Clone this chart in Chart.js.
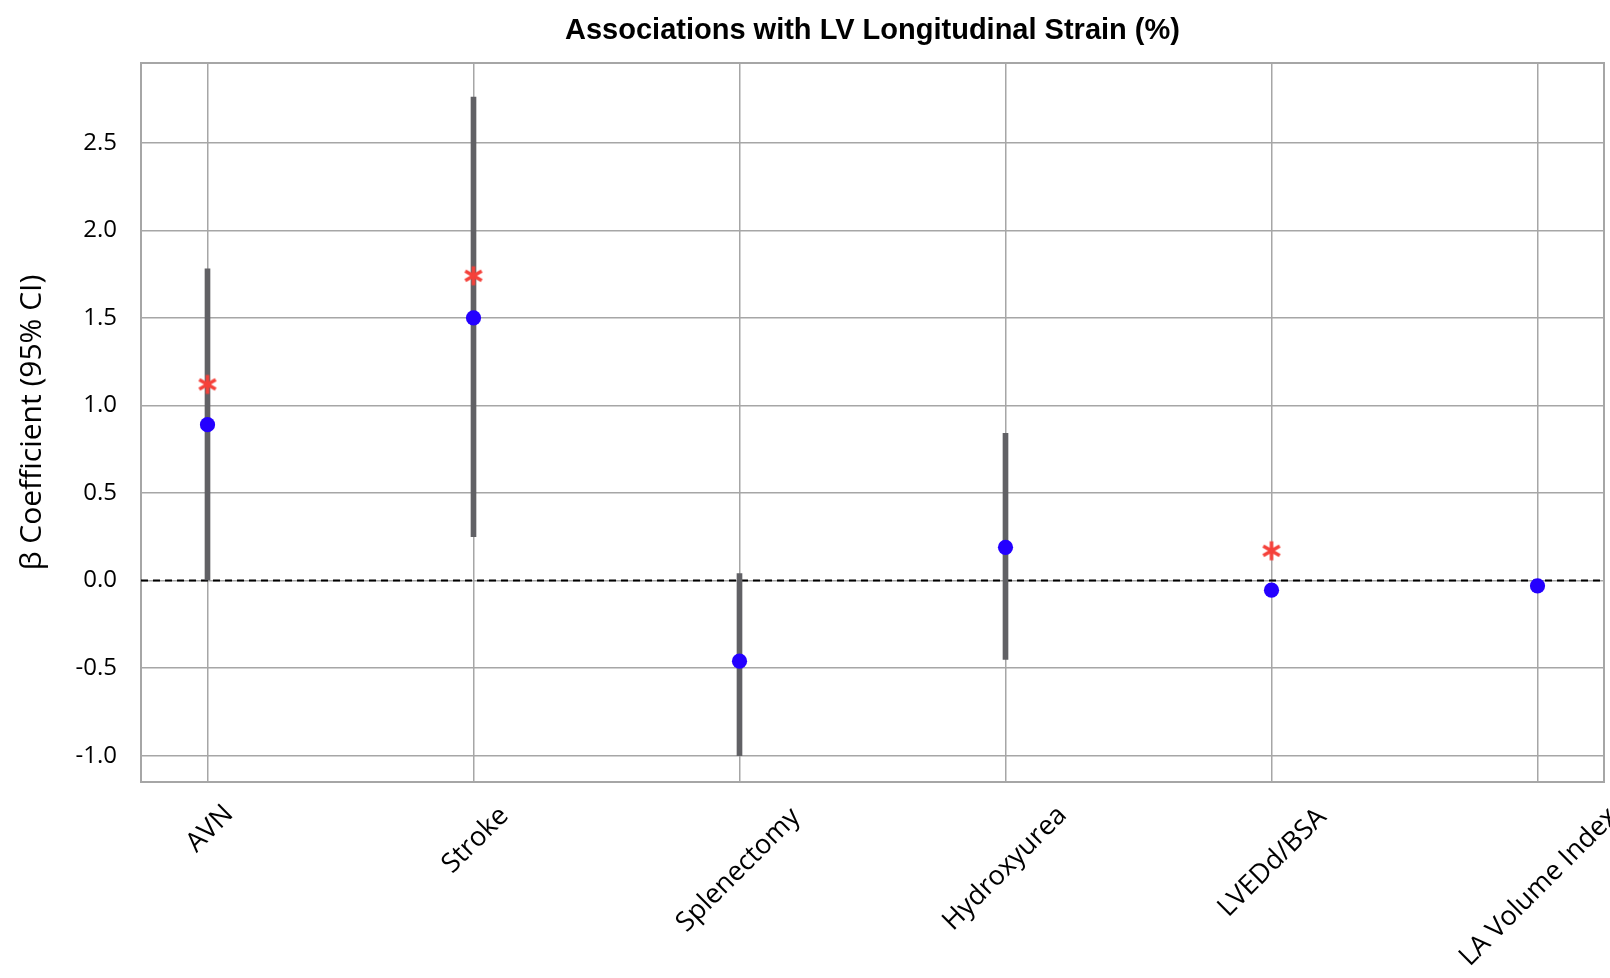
<!DOCTYPE html>
<html><head><meta charset="utf-8">
<script src="https://cdn.jsdelivr.net/npm/chart.js@4.4.1/dist/chart.umd.min.js"></script>
<style>html,body{margin:0;padding:0;background:#fff}#wrap{width:1610px;height:978px;position:relative}</style>
</head><body><div id="wrap"><canvas id="c"></canvas></div>
<script>
const categories = ["AVN", "Stroke", "Splenectomy", "Hydroxyurea", "LVEDd/BSA", "LA Volume Index"];
const beta = [0.89, 1.50, -0.46, 0.19, -0.055, -0.03];
const ciLower = [0.00, 0.25, -1.00, -0.45, null, null];
const ciUpper = [1.78, 2.76, 0.04, 0.84, null, null];
const asterisk = [1.12, 1.74, null, null, 0.17, null];
const yTicks = [-1.0, -0.5, 0.0, 0.5, 1.0, 1.5, 2.0, 2.5];
const chartTitle = "Associations with LV Longitudinal Strain (%)";
const yTitle = "β Coefficient (95% CI)";

const GRID = '#a6a6a6';
const FONT = "'Open Sans', sans-serif";

// six-armed asterisk marker used as a point style
const starMarker = (() => {
  const c = document.createElement('canvas');
  c.width = 26; c.height = 26;
  const g = c.getContext('2d');
  g.strokeStyle = '#f5413a';
  g.lineWidth = 3.6;
  g.lineCap = 'butt';
  const r = 9.5;
  [90, 30, -30].forEach(deg => {
    const t = deg * Math.PI / 180;
    g.beginPath();
    g.moveTo(13 - r * Math.cos(t), 13 - r * Math.sin(t));
    g.lineTo(13 + r * Math.cos(t), 13 + r * Math.sin(t));
    g.stroke();
  });
  return c;
})();

const titlePlugin = {
  id: 'centerTitle',
  afterDraw(chart) {
    const { ctx, chartArea } = chart;
    ctx.save();
    ctx.font = "bold 29px 'Liberation Sans', Arial, sans-serif";
    ctx.fillStyle = '#000';
    ctx.textAlign = 'center';
    ctx.textBaseline = 'middle';
    ctx.fillText(chartTitle, (chartArea.left + chartArea.right) / 2, 31);
    ctx.restore();
  }
};

// rotated category labels, bounding box centred under each tick of the x scale
const xLabelPlugin = {
  id: 'xLabels',
  afterDraw(chart) {
    const { ctx } = chart;
    const xs = chart.scales.x;
    ctx.save();
    ctx.font = "27px " + FONT;
    ctx.fillStyle = '#000';
    ctx.textAlign = 'center';
    ctx.textBaseline = 'alphabetic';
    const c45 = Math.SQRT1_2;
    categories.forEach((label, i) => {
      const m = ctx.measureText(label);
      const a = m.actualBoundingBoxAscent, d = m.actualBoundingBoxDescent;
      const L = m.actualBoundingBoxLeft, R = m.actualBoundingBoxRight;
      const X = xs.getPixelForValue(i);
      const Y0 = xs.top + 21;
      const ox = X - c45 * (R + d - L - a) / 2;
      const oy = Y0 + c45 * (R + a);
      ctx.save();
      ctx.translate(ox, oy);
      ctx.rotate(-Math.PI / 4);
      ctx.fillText(label, 0, 0);
      ctx.restore();
    });
    ctx.restore();
  }
};

new Chart(document.getElementById('c'), {
  type: 'bar',
  data: {
    datasets: [
      {
        type: 'line',
        label: 'zero',
        data: [{ x: -0.25, y: 0 }, { x: 5.25, y: 0 }],
        borderColor: '#000',
        borderWidth: 2,
        borderDash: [7, 5],
        pointRadius: 0,
        order: 4
      },
      {
        type: 'bar',
        label: '95% CI',
        data: categories.map((c, i) => ({ x: i, y: (ciLower[i] === null ? null : [ciLower[i], ciUpper[i]]) })),
        backgroundColor: '#616165',
        barThickness: 5,
        order: 3
      },
      {
        type: 'scatter',
        label: 'β',
        data: categories.map((c, i) => ({ x: i, y: beta[i] })),
        backgroundColor: '#2400ff',
        borderWidth: 0,
        pointRadius: 7.6,
        order: 2
      },
      {
        type: 'scatter',
        label: 'p < 0.05',
        data: categories.map((c, i) => ({ x: i, y: asterisk[i] })).filter(p => p.y !== null),
        pointStyle: starMarker,
        pointRadius: 10,
        order: 1
      }
    ]
  },
  options: {
    responsive: true,
    maintainAspectRatio: false,
    animation: false,
    layout: { autoPadding: false, padding: { top: 63, right: 6, bottom: 0, left: 0 } },
    plugins: { legend: { display: false }, tooltip: { enabled: false }, title: { display: false } },
    scales: {
      x: {
        type: 'linear',
        offset: false,
        min: -0.25, max: 5.25,
        afterBuildTicks(s) { s.ticks = categories.map((c, i) => ({ value: i })); },
        afterFit(s) { s.height = 196; },
        grid: { color: GRID, lineWidth: 1.5, drawTicks: false, offset: false },
        border: { color: GRID, width: 2 },
        ticks: { display: false, callback: (v) => categories[v] }
      },
      y: {
        type: 'linear',
        min: -1.15, max: 2.955,
        afterBuildTicks(s) { s.ticks = yTicks.map(v => ({ value: v })); },
        afterFit(s) { s.width = 141; },
        grid: { color: GRID, lineWidth: 1.5, drawTicks: false },
        border: { color: GRID, width: 2 },
        ticks: { color: '#000', font: { family: FONT, size: 24 }, padding: 24, callback: (v) => Number(v).toFixed(1) },
        title: { display: true, text: yTitle, color: '#000', font: { family: FONT, size: 30 }, padding: { top: 14, bottom: 0 } }
      },
      x2: {
        type: 'linear', position: 'top', min: -0.25, max: 5.25, offset: false,
        grid: { display: false, drawTicks: false }, ticks: { display: false },
        border: { color: GRID, width: 2 },
        afterFit(s) { s.height = 0; }
      },
      y2: {
        type: 'linear', position: 'right', min: -1.15, max: 2.955,
        grid: { display: false, drawTicks: false }, ticks: { display: false },
        border: { color: GRID, width: 2 },
        afterFit(s) { s.width = 0; }
      }
    }
  },
  plugins: [titlePlugin, xLabelPlugin]
});
</script></body></html>
